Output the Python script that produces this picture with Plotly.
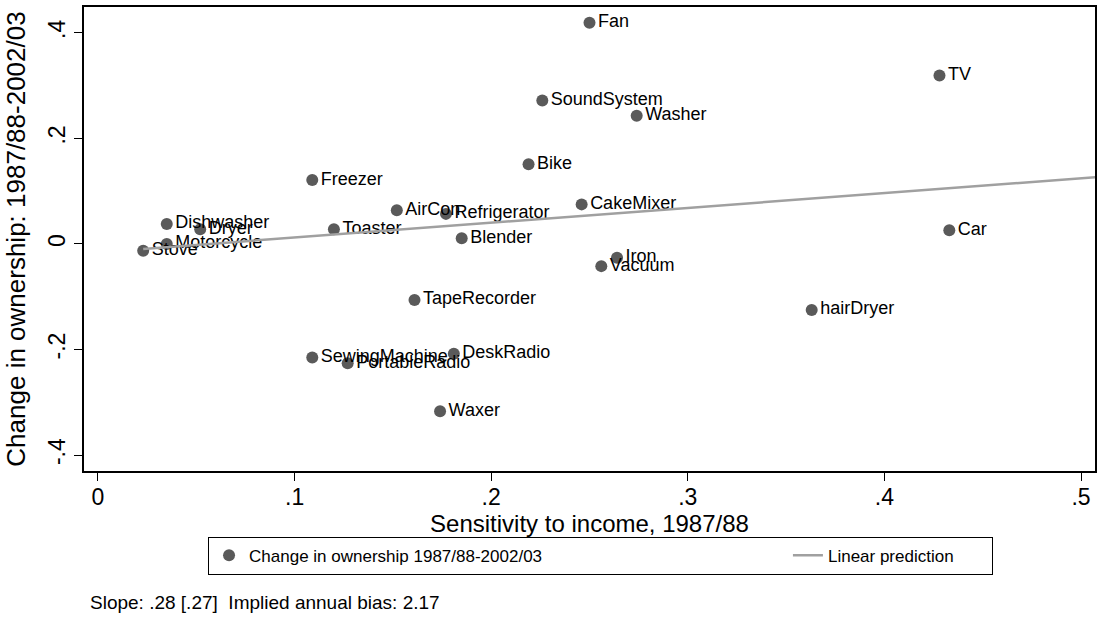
import plotly.graph_objects as go

# ---- data ----
items = ["Fan", "TV", "SoundSystem", "Washer", "Bike", "Freezer", "CakeMixer",
         "AirCon", "Refrigerator", "Dishwasher", "Dryer", "Toaster", "Motorcycle",
         "Stove", "Blender", "Car", "Iron", "Vacuum", "TapeRecorder", "hairDryer",
         "SewingMachine", "PortableRadio", "DeskRadio", "Waxer"]
sensitivity = [0.250, 0.428, 0.226, 0.274, 0.219, 0.109, 0.246,
               0.152, 0.177, 0.035, 0.052, 0.120, 0.035,
               0.023, 0.185, 0.433, 0.264, 0.256, 0.161, 0.363,
               0.109, 0.127, 0.181, 0.174]
change = [0.419, 0.319, 0.272, 0.243, 0.151, 0.121, 0.075,
          0.064, 0.057, 0.038, 0.028, 0.028, 0.000,
          -0.013, 0.011, 0.026, -0.026, -0.042, -0.106, -0.125,
          -0.215, -0.226, -0.208, -0.317]

fit_x = [0.023, 0.508]
fit_y = [-0.0094, 0.1267]

x_ticks = [0, 0.1, 0.2, 0.3, 0.4, 0.5]
x_tick_labels = ["0", ".1", ".2", ".3", ".4", ".5"]
y_ticks = [-0.4, -0.2, 0, 0.2, 0.4]
y_tick_labels = ["-.4", "-.2", "0", ".2", ".4"]

FONT = "Liberation Sans, Arial, sans-serif"
PAD1 = "\u00a0" * 51
PAD2 = "\u00a0" * 7

fig = go.Figure()
fig.add_trace(go.Scatter(
    x=sensitivity, y=change, mode="markers+text", text=items,
    textposition="middle right",
    textfont=dict(family=FONT, size=18, color="black"),
    marker=dict(size=12, color="#5a5a5a"),
    name="Change in ownership 1987/88-2002/03" + PAD1,
    cliponaxis=False,
))
fig.add_trace(go.Scatter(
    x=fit_x, y=fit_y, mode="lines",
    line=dict(color="#a0a0a0", width=2.5),
    name="Linear prediction" + PAD2,
))

fig.update_layout(
    width=1104, height=629,
    margin=dict(l=84, r=9, t=5, b=158),
    paper_bgcolor="white", plot_bgcolor="white",
    font=dict(family=FONT, size=18, color="black"),
    showlegend=True,
    legend=dict(
        orientation="h", x=0.1227, xanchor="left", y=-0.1416, yanchor="top",
        xref="paper", yref="paper",
        bordercolor="black", borderwidth=1, bgcolor="white",
        font=dict(family=FONT, size=17), itemwidth=30,
    ),
    annotations=[dict(
        text="Slope: .28 [.27]  Implied annual bias: 2.17",
        xref="paper", yref="paper", x=0.004, y=-0.283,
        xanchor="left", yanchor="middle", showarrow=False,
        font=dict(family=FONT, size=19, color="black"),
    )],
)

fig.update_xaxes(
    range=[-0.0071, 0.5071], tickvals=x_ticks, ticktext=x_tick_labels,
    ticks="outside", ticklen=8, tickwidth=1.2, tickcolor="black",
    showline=True, linecolor="black", linewidth=1.5, mirror=True,
    showgrid=False, zeroline=False, ticklabelstandoff=-3,
    title=dict(text="Sensitivity to income, 1987/88", standoff=0,
               font=dict(family=FONT, size=24)),
    tickfont=dict(family=FONT, size=23),
)
fig.update_yaxes(
    range=[-0.4302, 0.449], tickvals=y_ticks, ticktext=y_tick_labels,
    ticks="outside", ticklen=8, tickwidth=1.2, tickcolor="black",
    showline=True, linecolor="black", linewidth=1.5, mirror=True,
    showgrid=False, zeroline=False, tickangle=-90,
    title=dict(text="Change in ownership: 1987/88-2002/03", standoff=11,
               font=dict(family=FONT, size=26)),
    tickfont=dict(family=FONT, size=23),
)

fig.write_html(
    "out.html",
    config={"displayModeBar": False},
    post_script="document.body.style.margin='0';document.body.style.padding='0';",
)
